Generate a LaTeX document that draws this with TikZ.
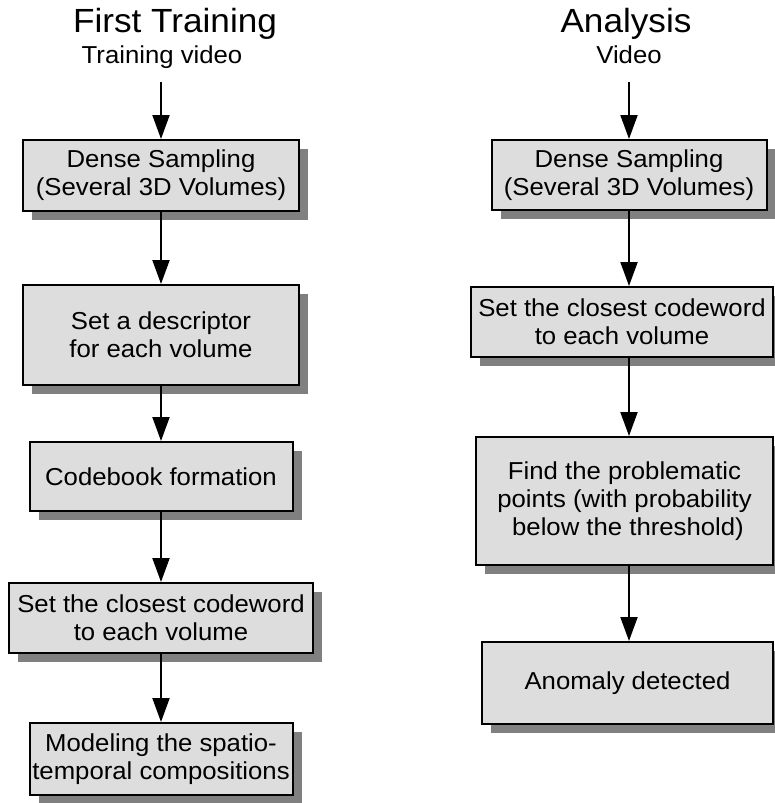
\documentclass[tikz,border=0pt]{standalone}
\usepackage{fontspec}
\setmainfont[FakeStretch=1.05]{Liberation Sans}
\usepackage{tikz}
\usetikzlibrary{arrows.meta,shadows}

\definecolor{boxgray}{HTML}{DDDDDD}
\definecolor{shadowgray}{HTML}{808080}

\tikzset{
  box/.style={draw, line width=2pt, fill=boxgray, align=center, inner sep=0pt,
    font=\fontsize{24.5}{28.3}\selectfont,
    drop shadow={shadow xshift=9pt, shadow yshift=-9pt, fill=shadowgray, opacity=1}},
  arr/.style={-{Triangle[width=17pt,length=24pt]}, line width=2pt},
  bigtitle/.style={anchor=base, font=\fontsize{33.5}{36}\selectfont},
  subtitle/.style={anchor=base, font=\fontsize{24.5}{28}\selectfont}
}

\begin{document}
\begin{tikzpicture}[x=1pt,y=-1pt]
\useasboundingbox (0,0) rectangle (774,803);

\node[bigtitle] (ft) at (175,32) {First Training};
\node[subtitle] (tv) at (162,63) {Training video};
\coordinate (tvend) at (161,82);

\node[box, minimum width=276, minimum height=71] (L1) at (161,175.5) {Dense Sampling\\(Several 3D Volumes)};
\node[box, minimum width=276, minimum height=100] (L2) at (161,335) {Set a descriptor\\for each volume};
\node[box, minimum width=263, minimum height=69] (L3) at (161,476.5) {Codebook formation};
\node[box, minimum width=304, minimum height=70] (L4) at (161,618) {Set the closest codeword\\to each volume};
\node[box, minimum width=263, minimum height=72] (L5) at (161,759) {Modeling the spatio-\\temporal compositions};

\draw[arr] (tvend) -- (L1.north);
\draw[arr] (L1.south) -- (L2.north);
\draw[arr] (L2.south) -- (L3.north);
\draw[arr] (L3.south) -- (L4.north);
\draw[arr] (L4.south) -- (L5.north);

\node[bigtitle] (an) at (626,32) {Analysis};
\node[subtitle] (vd) at (629,63) {Video};
\coordinate (vdend) at (629,82);

\node[box, minimum width=275, minimum height=70] (R1) at (629,175) {Dense Sampling\\(Several 3D Volumes)};
\node[box, minimum width=302, minimum height=70] (R2) at (622,322) {Set the closest codeword\\to each volume};
\node[box, minimum width=297, minimum height=128] (R3) at (624.5,501) {Find the problematic\\points (with probability\\\hspace*{7pt}below the threshold)};
\node[box, minimum width=291, minimum height=82] (R4) at (627.5,683) {Anomaly detected};

\draw[arr] (vdend) -- (R1.north);
\draw[arr] (R1.south) -- (R1.south |- R2.north);
\draw[arr] (R1.south |- R2.south) -- (R1.south |- R3.north);
\draw[arr] (R1.south |- R3.south) -- (R1.south |- R4.north);

\end{tikzpicture}
\end{document}
